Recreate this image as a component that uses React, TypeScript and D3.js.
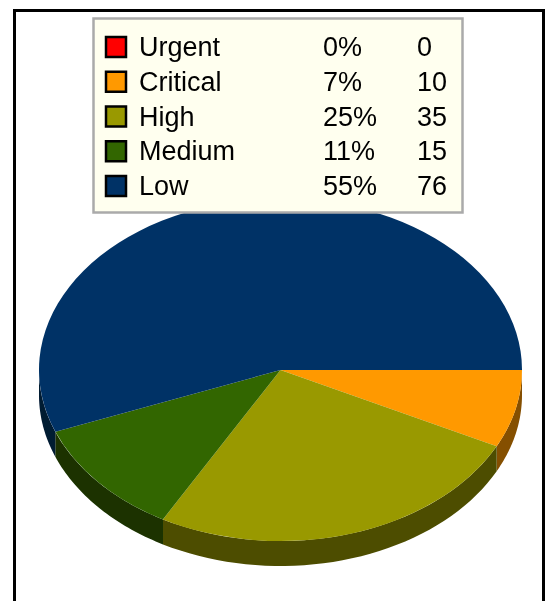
import * as d3 from 'd3'

const categories = ['Urgent', 'Critical', 'High', 'Medium', 'Low']
const counts = [0, 10, 35, 15, 76]
const percents = ['0%', '7%', '25%', '11%', '55%']
const colors = ['#ff0000', '#ff9900', '#999900', '#336600', '#003366']
const sideColors = ['#800000', '#854f00', '#4d4d00', '#1a3300', '#001a33']

const width = 549
const height = 601
const cx = 280.5
const cy = 370
const rx = 241.5
const ry = 171
const depth = 25

type Row = { name: string; count: number; pct: string; color: string; side: string }
const rows: Row[] = categories.map((name, i) => ({
    name, count: counts[i], pct: percents[i], color: colors[i], side: sideColors[i],
}))

// d3 angle 0 is north, so the first slice starts at east and runs clockwise
const pie = d3.pie<Row>().sort(null).value(d => d.count)
    .startAngle(Math.PI / 2).endAngle(Math.PI / 2 + Math.PI * 2)
const arcs = pie(rows)
const top = d3.arc<d3.PieArcDatum<Row>>().innerRadius(0).outerRadius(1)

function sidePath(a0: number, a1: number) {
    // only the front half of the rim shows
    const start = Math.max(a0, Math.PI / 2)
    const end = Math.min(a1, Math.PI * 1.5)
    if (end <= start) return null
    const angles = d3.range(0, 41).map(i => start + (end - start) * i / 40)
    const pt = (a: number, dy: number): [number, number] => [rx * Math.sin(a), -ry * Math.cos(a) + dy]
    return d3.line()([...angles.map(a => pt(a, 0)), ...angles.slice().reverse().map(a => pt(a, depth))]) + 'Z'
}

const rowY = d3.scalePoint<string>().domain(categories).range([46, 185])

export default function App() {
    return (
        <svg width={width} height={height} viewBox={`0 0 ${width} ${height}`}
            style={{ position: 'absolute', left: 0, top: 0, background: '#fff' }}>
            <defs>
                <filter id="soft" filterUnits="userSpaceOnUse" x={-10} y={-10} width={width + 20} height={height + 20}>
                    <feGaussianBlur stdDeviation="0.7" />
                </filter>
                <filter id="softer" filterUnits="userSpaceOnUse" x={-10} y={-10} width={width + 20} height={height + 20}>
                    <feGaussianBlur stdDeviation="0.35" />
                </filter>
            </defs>
            <path d={`M14.5,${height + 5}V10.5H543.5V${height + 5}`} fill="none" stroke="#000" strokeWidth={3} filter="url(#softer)" />
            <g filter="url(#soft)">
                <g transform={`translate(${cx},${cy})`}>
                    {arcs.map(d => {
                        const p = sidePath(d.startAngle, d.endAngle)
                        return p ? <path key={d.data.name} d={p} fill={d.data.side} /> : null
                    })}
                    <g transform={`scale(${rx},${ry})`}>
                        {arcs.filter(d => d.value > 0).map(d => (
                            <path key={d.data.name} d={top(d) ?? ''} fill={d.data.color} />
                        ))}
                    </g>
                </g>
            </g>
            <rect x={93.5} y={18.5} width={369} height={194} fill="#ffffef" stroke="#aaa" strokeWidth={2.5} />
            <g fontFamily="'Liberation Sans', Arial, sans-serif" fontSize={27} fill="#000" filter="url(#softer)">
                {rows.map(d => {
                    const y = rowY(d.name) ?? 0
                    return (
                        <g key={d.name}>
                            <rect x={106} y={y - 9} width={20} height={20} fill={d.color} stroke="#000" strokeWidth={2.5} />
                            <text x={139} y={y + 10}>{d.name}</text>
                            <text x={323} y={y + 10}>{d.pct}</text>
                            <text x={417} y={y + 10}>{d.count}</text>
                        </g>
                    )
                })}
            </g>
        </svg>
    )
}
